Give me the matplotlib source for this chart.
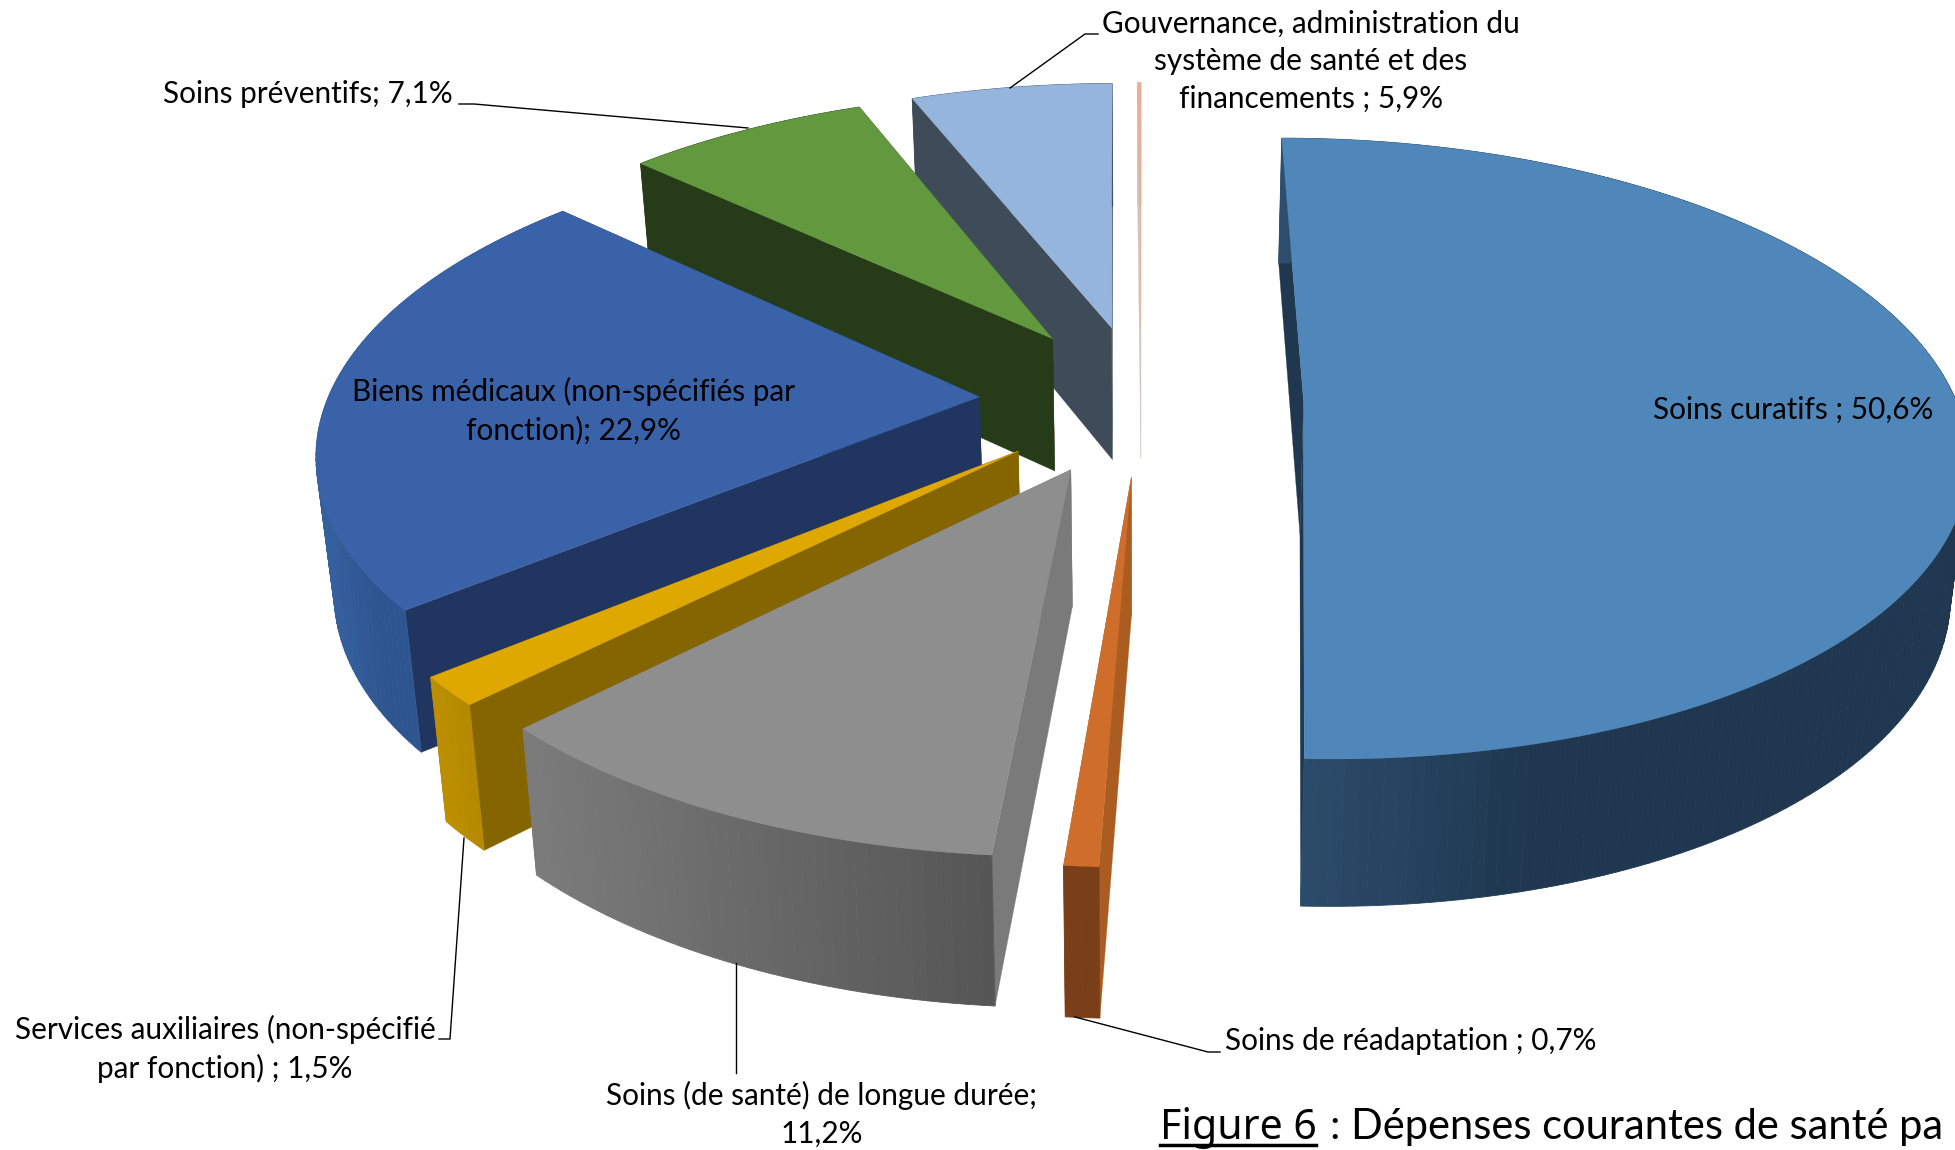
import numpy as np
import matplotlib
matplotlib.use("Agg")
import matplotlib.pyplot as plt

# slices, clockwise from 12 o'clock
categories = ["Soins curatifs", "Soins de réadaptation", "Soins (de santé) de longue durée",
              "Services auxiliaires (non-spécifié par fonction)",
              "Biens médicaux (non-spécifiés par fonction)", "Soins préventifs",
              "Gouvernance, administration du système de santé et des financements", "Autres"]
values = [50.6, 0.7, 11.2, 1.5, 22.9, 7.1, 5.9, 0.1]

top_colors = ["#4f87ba", "#cf6e2a", "#8e8e8e", "#dfa800", "#3a62a8", "#62993f", "#95b5dc", "#e8b098"]
face_colors = ["#1f3850", "#ab5c20", "#7a7a7a", "#856500", "#203560", "#263c18", "#3e4b59", "#d0c4bd"]
wall_start = ["#2d4e6e", "#7a3e18", "#7c7c7c", "#bd9000", "#35609f", "#263c18", "#3e4b59", "#d0c4bd"]
wall_end = ["#1f3750", "#7a3e18", "#555555", "#b58a00", "#2f5590", "#263c18", "#3e4b59", "#d0c4bd"]
wall_span = [260, 40, 480, 40, 60, 40, 40, 40]

# one text per label: lines, x, y, horizontal alignment
labels = [
    ("Soins curatifs ; 50,6%", 1653, 410, "left"),
    ("Soins de réadaptation ; 0,7%", 1225, 1041, "left"),
    ("Soins (de santé) de longue durée;\n11,2%", 822, 1114, "center"),
    ("Services auxiliaires (non-spécifié\npar fonction) ; 1,5%", 225, 1049, "center"),
    ("Biens médicaux (non-spécifiés par\nfonction); 22,9%", 573, 411, "center"),
    ("Soins préventifs; 7,1%", 453, 94, "right"),
    ("Gouvernance, administration du\nsystème de santé et des\nfinancements ; 5,9%", 1311, 61, "center"),
]
leaders = [
    ([1075, 1208, 1220], [1017, 1052, 1052]),
    ([736, 736], [963, 1073]),
    ([464, 450, 439], [838, 1039, 1039]),
    ([748, 474, 459], [128, 104, 104]),
    ([1010, 1085, 1098], [88, 34, 34]),
]

# projection of the pie plane to pixels
CX, CY = 1141.4, 399
FX, FY = 652, 302.5
PERSP = 0.155
EXPLODE = 0.2485


def project(x, y):
    w = 1 + PERSP * y
    return CX + FX * x / w, CY - FY * y / w


def drop(px, py):
    # bottom face of the pie is shifted down and pulled in a little
    return px - 0.022 * (px - CX), py + 124.7 + 0.0365 * (py - 137)


fig = plt.figure(figsize=(19.56, 11.5), dpi=100)
ax = fig.add_axes([0, 0, 1, 1])
ax.set_xlim(0, 1956)
ax.set_ylim(1150, 0)
ax.axis("off")

edges = np.cumsum([0] + values) / sum(values) * 2 * np.pi
order = [7, 6, 5, 4, 3, 2, 1, 0]

for i in order:
    a0, a1 = edges[i], edges[i + 1]
    mid = (a0 + a1) / 2
    ox, oy = EXPLODE * np.sin(mid), EXPLODE * np.cos(mid)
    n = max(int(np.degrees(a1 - a0)), 2)
    ang = np.linspace(a0, a1, n + 1)
    ax_pts, ay_pts = project(ox + np.sin(ang), oy + np.cos(ang))
    apex = project(ox, oy)
    bx, by = drop(ax_pts, ay_pts)
    abx, aby = drop(*apex)

    # cut faces
    for k in (0, -1):
        ax.fill([apex[0], ax_pts[k], bx[k], abx], [apex[1], ay_pts[k], by[k], aby],
                color=face_colors[i], lw=0.2)

    # outer wall, shaded along x
    x_left = ax_pts.min()
    c0 = np.array(matplotlib.colors.to_rgb(wall_start[i]))
    c1 = np.array(matplotlib.colors.to_rgb(wall_end[i]))
    for k in range(n):
        t = np.clip((ax_pts[k] - x_left) / wall_span[i], 0, 1)
        col = c0 + (c1 - c0) * t
        ax.fill([ax_pts[k], ax_pts[k + 1], bx[k + 1], bx[k]],
                [ay_pts[k], ay_pts[k + 1], by[k + 1], by[k]],
                color=col, lw=0.6)

    # top
    ax.fill(np.r_[apex[0], ax_pts], np.r_[apex[1], ay_pts], color=top_colors[i], lw=0.2)

for xs, ys in leaders:
    ax.plot(xs, ys, color="black", lw=1.0, zorder=50)

font = "Lato"
for text, x, y, ha in labels:
    ax.text(x, y, text, ha=ha, va="center", fontsize=21.4, family=font, color="black",
            linespacing=1.42, zorder=60)

# caption, runs off the right edge in the source image
ax.text(1160, 1139, "Figure 6", fontsize=29.5, family="Noto Sans", ha="left", va="baseline",
        color="black", zorder=60)
ax.text(1330, 1139, ": Dépenses courantes de santé pa", fontsize=30, family="Lato",
        ha="left", va="baseline", color="black", zorder=60)
ax.plot([1160, 1316], [1145, 1145], color="black", lw=2.5, zorder=60)

fig.savefig("out.png", dpi=100)
